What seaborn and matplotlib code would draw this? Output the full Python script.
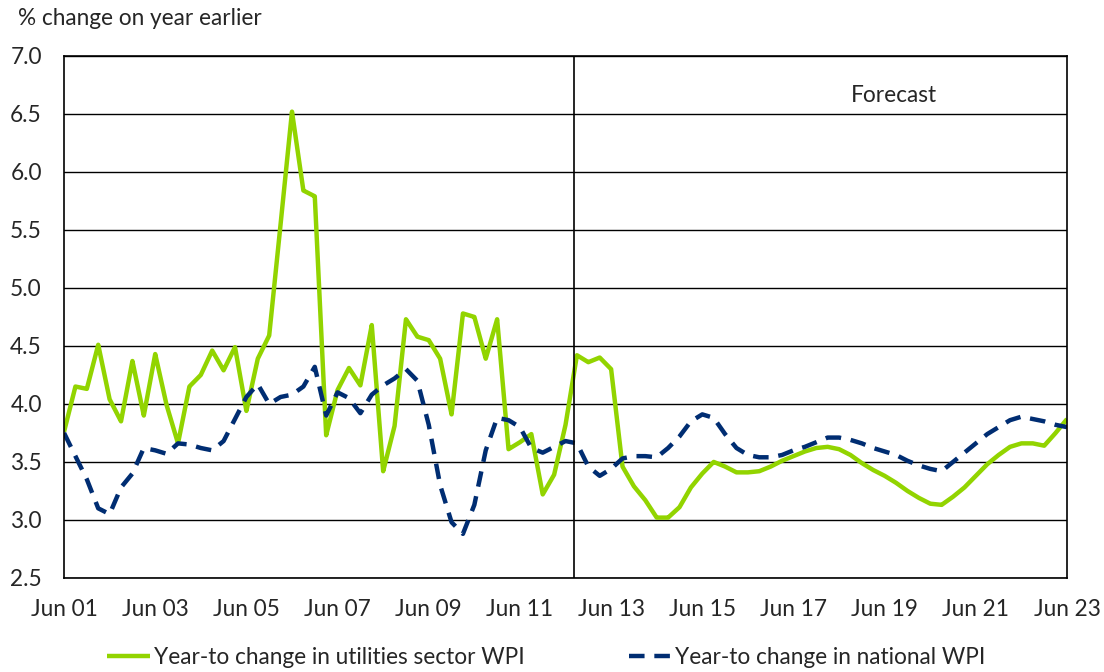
import matplotlib
matplotlib.use("Agg")
import matplotlib.pyplot as plt
import seaborn as sns
import pandas as pd
import numpy as np

# quarterly, Jun 01 .. Jun 23 (89 quarters)
utilities = [
    3.76, 4.15, 4.13, 4.51, 4.04, 3.85, 4.37, 3.90, 4.43, 3.99,
    3.66, 4.15, 4.25, 4.46, 4.29, 4.49, 3.94, 4.39, 4.59, 5.55,
    6.52, 5.84, 5.79, 3.73, 4.12, 4.31, 4.16, 4.68, 3.42, 3.81,
    4.73, 4.58, 4.55, 4.39, 3.91, 4.78, 4.75, 4.39, 4.73, 3.61,
    3.67, 3.74, 3.22, 3.39, 3.82, 4.42, 4.36, 4.40, 4.30, 3.46,
    3.29, 3.17, 3.02, 3.02, 3.11, 3.28, 3.40, 3.50, 3.46, 3.41,
    3.41, 3.42, 3.46, 3.51, 3.55, 3.59, 3.62, 3.63, 3.61, 3.56,
    3.49, 3.43, 3.38, 3.32, 3.25, 3.19, 3.14, 3.13, 3.20, 3.28,
    3.38, 3.48, 3.56, 3.63, 3.66, 3.66, 3.64, 3.75, 3.87,
]
national = [
    3.75, 3.55, 3.35, 3.10, 3.05, 3.28, 3.40, 3.62, 3.60, 3.57,
    3.66, 3.65, 3.62, 3.60, 3.68, 3.87, 4.06, 4.17, 4.00, 4.06,
    4.08, 4.15, 4.32, 3.90, 4.10, 4.05, 3.92, 4.08, 4.16, 4.22,
    4.30, 4.20, 3.82, 3.30, 2.98, 2.88, 3.13, 3.60, 3.88, 3.86,
    3.80, 3.62, 3.58, 3.63, 3.68, 3.66, 3.46, 3.38, 3.44, 3.53,
    3.55, 3.55, 3.54, 3.62, 3.72, 3.85, 3.91, 3.88, 3.74, 3.62,
    3.56, 3.54, 3.54, 3.56, 3.60, 3.63, 3.67, 3.71, 3.71, 3.69,
    3.66, 3.62, 3.59, 3.56, 3.51, 3.47, 3.44, 3.42, 3.50, 3.58,
    3.66, 3.74, 3.80, 3.86, 3.89, 3.87, 3.85, 3.82, 3.80,
]
tick_labels = ["Jun 01", "Jun 03", "Jun 05", "Jun 07", "Jun 09", "Jun 11",
               "Jun 13", "Jun 15", "Jun 17", "Jun 19", "Jun 21", "Jun 23"]
forecast_start = 44.75

quarter = np.arange(len(utilities))
df = pd.DataFrame({
    "quarter": np.concatenate([quarter, quarter]),
    "value": utilities + national,
    "series": ["Year-to change in utilities sector WPI"] * len(utilities)
              + ["Year-to change in national WPI"] * len(national),
})

sns.set_style("white")
plt.rcParams["font.family"] = ["Lato", "DejaVu Sans"]
fs = 16.3

fig = plt.figure(figsize=(11.04, 6.72), dpi=100)
ax = fig.add_axes([0.058, 0.140, 0.9085, 0.7767])

palette = {"Year-to change in utilities sector WPI": "#92D400",
           "Year-to change in national WPI": "#002D72"}
sns.lineplot(data=df, x="quarter", y="value", hue="series", style="series",
             palette=palette, dashes=[(1, 0), (3.5, 2.2)], linewidth=3.2,
             ax=ax, legend=True)

ax.set_xlim(0, 88)
ax.set_ylim(2.5, 7.0)
yt = np.arange(2.5, 7.01, 0.5)
ax.set_yticks(yt)
ax.set_yticklabels([f"{v:.1f}" for v in yt], fontsize=fs)
ax.set_xticks(np.arange(0, 89, 8))
ax.set_xticklabels(tick_labels, fontsize=fs)
ax.tick_params(axis="x", direction="out", length=4, width=1, color="black", pad=11)
ax.tick_params(axis="y", direction="out", length=5, width=1, color="black", pad=11)
ax.grid(axis="y", color="black", linewidth=1)
ax.set_axisbelow(True)
for s in ax.spines.values():
    s.set_color("black")
    s.set_linewidth(1.2)
ax.set_xlabel("")
ax.set_ylabel("")

ax.axvline(forecast_start, color="black", linewidth=1.2)
ax.text(72.8, 6.66, "Forecast", fontsize=fs, ha="center", va="center")
fig.text(0.016, 0.973, "% change on year earlier", fontsize=fs, ha="left", va="center")

handles, labels = ax.get_legend_handles_labels()
ax.legend(handles, labels, loc="center", bbox_to_anchor=(0.481, -0.153), ncol=2,
          frameon=False, fontsize=fs, handlelength=1.9, handletextpad=0.15,
          columnspacing=4.6)

fig.savefig("out.png", dpi=100)
